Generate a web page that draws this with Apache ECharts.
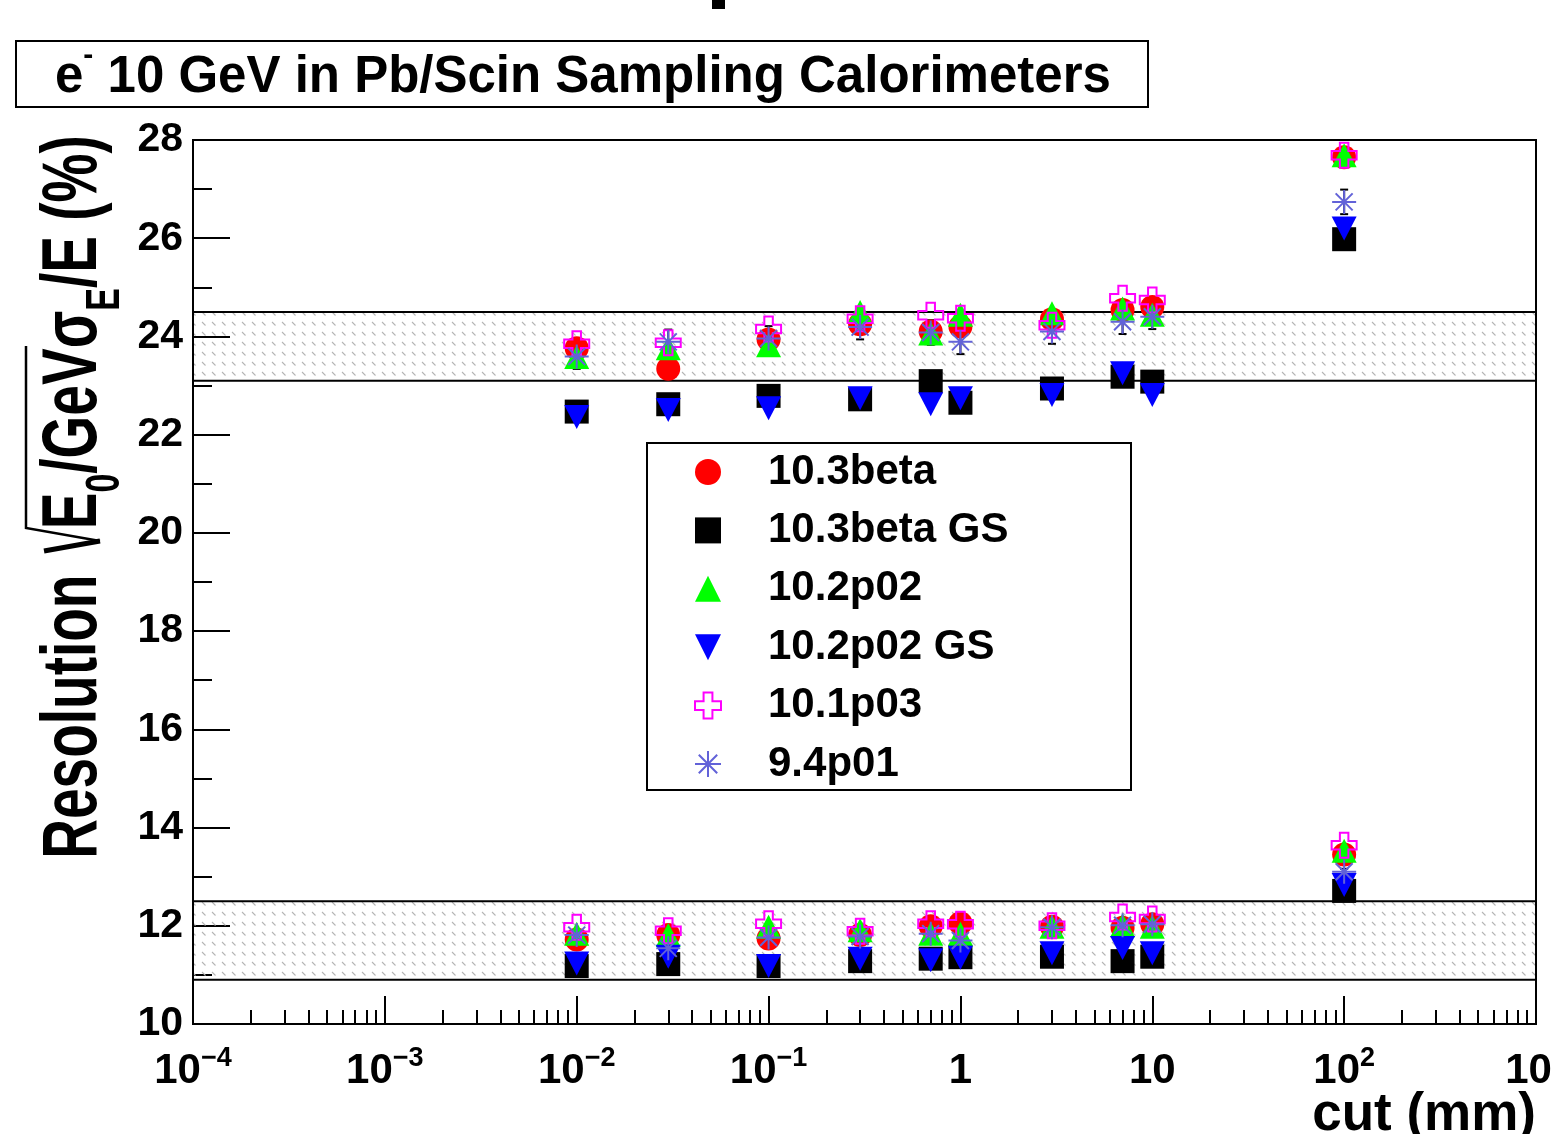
<!DOCTYPE html>
<html><head><meta charset="utf-8">
<script src="https://cdn.jsdelivr.net/npm/echarts@6/dist/echarts.min.js"></script>
<style>html,body{margin:0;padding:0;background:#fff;overflow:hidden}#c{width:1551px;height:1134px}</style>
</head><body><div id="c"></div>
<script>
// ---- data ----
const cuts = [0.01, 0.03, 0.1, 0.3, 0.7, 1, 3, 7, 10, 100];
const seriesNames = ['10.3beta', '10.3beta GS', '10.2p02', '10.2p02 GS', '10.1p03', '9.4p01'];
// upper group / lower group values (%)
const beta103High   = [23.76, 23.34, 23.94, 24.25, 24.10, 24.20, 24.35, 24.54, 24.60, 27.65];
const beta103Low    = [11.72, 11.81, 11.74, 11.81, 11.99, 12.05, 11.98, 11.96, 12.03, 13.45];
const beta103GSHigh = [22.47, 22.62, 22.79, 22.72, 23.09, 22.65, 22.94, 23.18, 23.08, 25.98];
const beta103GSLow  = [11.18, 11.22, 11.18, 11.28, 11.33, 11.36, 11.37, 11.28, 11.37, 12.71];
const p102High      = [23.58, 23.76, 23.82, 24.50, 24.06, 24.44, 24.47, 24.57, 24.44, 27.69];
const p102Low       = [11.84, 11.81, 11.98, 11.91, 11.84, 11.84, 11.98, 12.01, 11.98, 13.53];
const p102GSHigh    = [22.36, 22.50, 22.54, 22.74, 22.62, 22.74, 22.81, 23.25, 22.81, 26.20];
const p102GSLow     = [11.23, 11.37, 11.18, 11.33, 11.30, 11.35, 11.44, 11.55, 11.44, 12.83];
const p103High      = [23.85, 23.87, 24.15, 24.36, 24.43, 24.37, 24.23, 24.78, 24.74, 27.69];
const p103Low       = [11.97, 11.90, 12.04, 11.89, 12.04, 12.03, 12.00, 12.18, 12.14, 13.64];
const p401High      = [23.59, 23.89, 23.96, 24.19, 24.08, 23.89, 24.10, 24.30, 24.40, 26.74];
const p401Low       = [11.81, 11.54, 11.76, 11.78, 11.84, 11.70, 11.97, 12.01, 12.03, 13.10];
const p401ErrHigh   = [0.25, 0.25, 0.25, 0.25, 0.25, 0.25, 0.25, 0.25, 0.25, 0.25];
const p401ErrLow    = [0.06, 0.06, 0.06, 0.06, 0.06, 0.06, 0.06, 0.06, 0.06, 0.06];
const bands = [[23.1, 24.5], [10.9, 12.5]];
const xRange = [1e-4, 1e3];
const yRange = [10, 28];
const xMinorTicks = [];
for (let e = -4; e < 3; e++) for (let m = 2; m <= 9; m++) xMinorTicks.push(m * Math.pow(10, e));

// ---- styles ----
const FONT = "'Liberation Sans', Arial, sans-serif";
const colors = ['#ff0000', '#000000', '#00ff00', '#0000ff', '#ff00ff', '#6262d8'];
const symbols = [
  'circle',
  'rect',
  'triangle',
  'path://M0,0L10,0L5,10Z',
  'path://M3.3,0H6.7V3.3H10V6.7H6.7V10H3.3V6.7H0V3.3H3.3Z',
  'path://M5,0V10M0,5H10M1.46,1.46L8.54,8.54M8.54,1.46L1.46,8.54'
];
const sizes = [24, 24, [25, 24], [25, 24], 25, 24];
const highs = [beta103High, beta103GSHigh, p102High, p102GSHigh, p103High, p401High];
const lows  = [beta103Low, beta103GSLow, p102Low, p102GSLow, p103Low, p401Low];

const hatch = document.createElement('canvas');
hatch.width = 10; hatch.height = 10;
(function () {
  const g = hatch.getContext('2d');
  g.strokeStyle = '#b5b5b5'; g.lineWidth = 1.1;
  g.beginPath(); g.moveTo(2, 2); g.lineTo(5.5, 5.5); g.stroke();
})();

function pairs(hi, lo) {
  return cuts.map((x, i) => [x, hi[i]]).concat(cuts.map((x, i) => [x, lo[i]]));
}

const series = [];
series.push({
  type: 'line', name: 'bands', data: [], silent: true, z: 1,
  markArea: {
    silent: true,
    itemStyle: { color: { image: hatch, repeat: 'repeat' }, borderColor: '#000', borderWidth: 2 },
    data: bands.map(b => [{ xAxis: xRange[0], yAxis: b[0] }, { xAxis: xRange[1], yAxis: b[1] }])
  }
});
seriesNames.forEach((name, k) => {
  if (k === 5) {
    series.push({
      type: 'custom', name: 'err', silent: true, z: 2,
      data: cuts.map((x, i) => [x, p401High[i], p401ErrHigh[i]]).concat(cuts.map((x, i) => [x, p401Low[i], p401ErrLow[i]])),
      encode: { x: 0, y: 1 },
      renderItem: function (params, api) {
        const x = api.value(0), y = api.value(1), e = api.value(2);
        const a = api.coord([x, y - e]), b = api.coord([x, y + e]);
        const w = 4, st = { stroke: '#000', lineWidth: 2 };
        return { type: 'group', children: [
          { type: 'line', shape: { x1: a[0], y1: a[1], x2: b[0], y2: b[1] }, style: st },
          { type: 'line', shape: { x1: a[0] - w, y1: a[1], x2: a[0] + w, y2: a[1] }, style: st },
          { type: 'line', shape: { x1: b[0] - w, y1: b[1], x2: b[0] + w, y2: b[1] }, style: st }
        ]};
      }
    });
  }
  const hollow = k >= 4;
  series.push({
    type: 'scatter', name: name, z: 3,
    symbol: symbols[k], symbolSize: sizes[k],
    itemStyle: hollow ? { color: 'rgba(0,0,0,0)', borderColor: colors[k], borderWidth: 2, opacity: 1 } : { color: colors[k], opacity: 1 },
    emphasis: { disabled: true },
    data: pairs(highs[k], lows[k])
  });
});

function xLabel(v) {
  const e = Math.round(Math.log10(v));
  if (e === 0) return '{b|1}';
  if (e === 1) return '{b|10}';
  return '{b|10}{p|' + (e < 0 ? '\u2212' + (-e) : e) + '}';
}

const chart = echarts.init(document.getElementById('c'), null, { renderer: 'canvas' });
chart.setOption({
  animation: false,
  backgroundColor: '#fff',
  title: {
    text: '{a|e}{s|-}{a| 10 GeV in Pb/Scin Sampling Calorimeters}',
    left: 55, top: 41, padding: 0,
    textStyle: {
      rich: {
        a: { fontFamily: FONT, fontWeight: 'bold', fontSize: 51, color: '#000', verticalAlign: 'bottom', lineHeight: 62 },
        s: { fontFamily: FONT, fontWeight: 'bold', fontSize: 30, color: '#000', verticalAlign: 'top', lineHeight: 30 }
      }
    }
  },
  legend: {
    data: seriesNames,
    orient: 'vertical', left: 689, top: 446,
    itemWidth: 26, itemHeight: 26, itemGap: 16.4,
    selectedMode: false,
    textStyle: { fontFamily: FONT, fontWeight: 'bold', fontSize: 42, color: '#000', padding: [0, 0, 0, 42] }
  },
  grid: {
    left: 193, right: 15, top: 140, bottom: 110, show: true, borderColor: '#000', borderWidth: 2,
    backgroundColor: 'transparent', containLabel: false, outerBoundsMode: 'none'
  },
  xAxis: [{
    type: 'log', logBase: 10, min: xRange[0], max: xRange[1], splitNumber: 7,
    axisLine: { lineStyle: { color: '#000', width: 2 } },
    axisTick: { inside: true, length: 28, lineStyle: { color: '#000', width: 2 } },
    splitLine: { show: false },
    axisLabel: {
      margin: 21, formatter: xLabel, showMinLabel: true, showMaxLabel: true, hideOverlap: false,
      rich: {
        b: { fontFamily: FONT, fontWeight: 'bold', fontSize: 42, color: '#000', lineHeight: 52 },
        p: { fontFamily: FONT, fontWeight: 'bold', fontSize: 27, color: '#000', verticalAlign: 'top', lineHeight: 26 }
      }
    }
  }, {
    type: 'log', logBase: 10, min: xRange[0], max: xRange[1], position: 'bottom',
    axisLine: { show: false }, axisLabel: { show: false }, splitLine: { show: false },
    axisTick: { inside: true, length: 14, customValues: xMinorTicks, lineStyle: { color: '#000', width: 2 } }
  }],
  yAxis: {
    type: 'value', min: yRange[0], max: yRange[1], interval: 2,
    axisLine: { show: true, lineStyle: { color: '#000', width: 2 } },
    axisTick: { inside: true, length: 37, lineStyle: { color: '#000', width: 2 } },
    minorTick: { show: true, splitNumber: 2, length: 19, lineStyle: { color: '#000', width: 2 } },
    splitLine: { show: false },
    axisLabel: { margin: 10, fontFamily: FONT, fontWeight: 'bold', fontSize: 41, color: '#000' }
  },
  graphic: [
    { type: 'rect', z: 0, shape: { x: 16, y: 41, width: 1132, height: 66 }, style: { fill: '#fff', stroke: '#000', lineWidth: 2 } },
    { type: 'rect', z: 0, shape: { x: 647, y: 443, width: 484, height: 347 }, style: { fill: '#fff', stroke: '#000', lineWidth: 2 } },
    { type: 'rect', z: 0, shape: { x: 712, y: 0, width: 13, height: 9 }, style: { fill: '#000' } },
    {
      type: 'text', z: 5, x: 1536, y: 1089,
      style: { text: 'cut (mm)', align: 'right', verticalAlign: 'top', font: 'bold 53px ' + FONT, fill: '#000' }
    },
    {
      type: 'text', z: 5, x: 83, y: 497, rotation: Math.PI / 2, scaleX: 1, scaleY: 1.4,
      style: {
        text: '{m|Resolution }{g| }{m|E}{s|0}{m|/GeV}{m|\u03C3}{s|E}{m|/E (%)}',
        align: 'center', verticalAlign: 'middle',
        rich: {
          m: { fontFamily: FONT, fontWeight: 'bold', fontSize: 55, fill: '#000', verticalAlign: 'bottom', padding: [0, 0, 12, 0] },
          g: { fontFamily: FONT, fontWeight: 'bold', fontSize: 55, fill: '#000', verticalAlign: 'bottom', width: 30 },
          s: { fontFamily: FONT, fontWeight: 'bold', fontSize: 34, fill: '#000', verticalAlign: 'bottom' }
        }
      }
    },
    { type: 'polyline', z: 5, shape: { points: [[44, 551], [100, 541]] }, style: { stroke: '#000', lineWidth: 5, fill: null } },
    { type: 'polyline', z: 5, shape: { points: [[100, 541], [26, 528], [26, 346]] }, style: { stroke: '#000', lineWidth: 2.5, fill: null } }
  ],
  series: series
});
</script>
</body></html>
